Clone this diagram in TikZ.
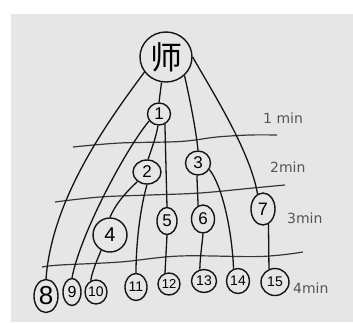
\documentclass[tikz,border=0pt]{standalone}
\usepackage{fontspec}
\setmainfont{Liberation Sans}
\newfontfamily\cjk{Noto Sans CJK SC}
\newfontfamily\labfont{DejaVu Sans}
\usetikzlibrary{shapes.geometric}
\definecolor{bg}{RGB}{230,230,230}
\definecolor{ink}{RGB}{20,20,20}
\definecolor{labink}{RGB}{85,85,85}
\begin{document}
\begin{tikzpicture}[x=1pt,y=-1pt,
  bub/.style={draw=ink, line width=1.4pt, ellipse, inner sep=0pt},
  sz/.style 2 args={minimum width=#1pt, minimum height=#2pt},
  fs/.style={font=\fontsize{#1}{#1}\selectfont},
  edge/.style={draw=ink, line width=1.3pt},
  tline/.style={draw=ink!85, line width=1.2pt},
  lab/.style={anchor=base west, text=labink, inner sep=0pt, font=\labfont\fontsize{14}{14}\selectfont}]
\useasboundingbox (0,0) rectangle (353,322);
\fill[white] (0,0) rectangle (353,322);
\fill[bg] (11,14) rectangle (353,322);

% time lines
\draw[tline] plot[smooth, tension=0.6] coordinates {(73,147) (120,143) (180,141.5) (217,137) (250,135) (277,135)};
\draw[tline] plot[smooth, tension=0.6] coordinates {(55,202) (100,197) (150,195) (200,193) (253,188) (285,185)};
\draw[tline] plot[smooth, tension=0.6] coordinates {(42,267) (60,265) (120,262) (180,256) (260,256.5) (303,252)};

% nodes
\node[bub, sz={52}{50}, font=\cjk\fontsize{32}{32}\selectfont] (shi) at (166,57) {师};
\node[bub, sz={23}{22}, fs=17] (n1) at (159,114) {1};
\node[bub, sz={28}{24}, fs=17] (n2) at (147,172) {2};
\node[bub, sz={25}{24}, fs=17] (n3) at (198,163) {3};
\node[bub, sz={34}{34}, fs=20] (n4) at (110,235) {4};
\node[bub, sz={20}{27}, fs=17] (n5) at (167,221) {5};
\node[bub, sz={23}{28}, fs=17] (n6) at (203,219) {6};
\node[bub, sz={24}{32}, fs=18] (n7) at (263,209) {7};
\node[bub, sz={24}{33}, fs=26] (n8) at (46,296) {8};
\node[bub, sz={18}{27}, fs=16] (n9) at (72,292) {9};
\node[bub, sz={22}{24}, fs=14] (n10) at (96,292) {10};
\node[bub, sz={22}{27}, fs=14] (n11) at (136,287) {11};
\node[bub, sz={22}{22}, fs=13] (n12) at (169,284) {12};
\node[bub, sz={25}{23}, fs=14] (n13) at (204,281) {13};
\node[bub, sz={23}{25}, fs=14] (n14) at (238,281) {14};
\node[bub, sz={28}{27}, fs=14] (n15) at (275,282) {15};

% labels
\node[lab] (l1) at (263,123) {1 min};
\node[lab] (l2) at (270,172) {2min};
\node[lab] (l3) at (287,223) {3min};
\node[lab] (l4) at (293,293) {4min};

% connectors
\draw[edge] (shi.215) .. controls (105,125) and (52,200) .. (n8.north);
\draw[edge] (shi.260) -- (n1.north);
\draw[edge] (shi.315) .. controls (190,100) and (196,130) .. (n3.north);
\draw[edge] (shi.east) .. controls (210,88) and (250,150) .. (n7.110);
\draw[edge] (n1.215) .. controls (125,150) and (80,235) .. (n9.north);
\draw[edge] (n1.265) .. controls (156,138) and (151,150) .. (n2.85);
\draw[edge] (n1.300) -- (n5.north);
\draw[edge] (n2.225) .. controls (125,193) and (115,205) .. (n4.north);
\draw[edge] (n2.south) .. controls (141,205) and (136,240) .. (n11.north);
\draw[edge] (n4.240) .. controls (97,260) and (92,272) .. (n10.115);
\draw[edge] (n3.265) -- (n6.110);
\draw[edge] (n3.330) .. controls (222,185) and (232,230) .. (n14.110);
\draw[edge] (n5.south) -- (n12.110);
\draw[edge] (n6.south) .. controls (202,245) and (200,258) .. (n13.110);
\draw[edge] (n7.290) -- (n15.115);
\end{tikzpicture}
\end{document}
